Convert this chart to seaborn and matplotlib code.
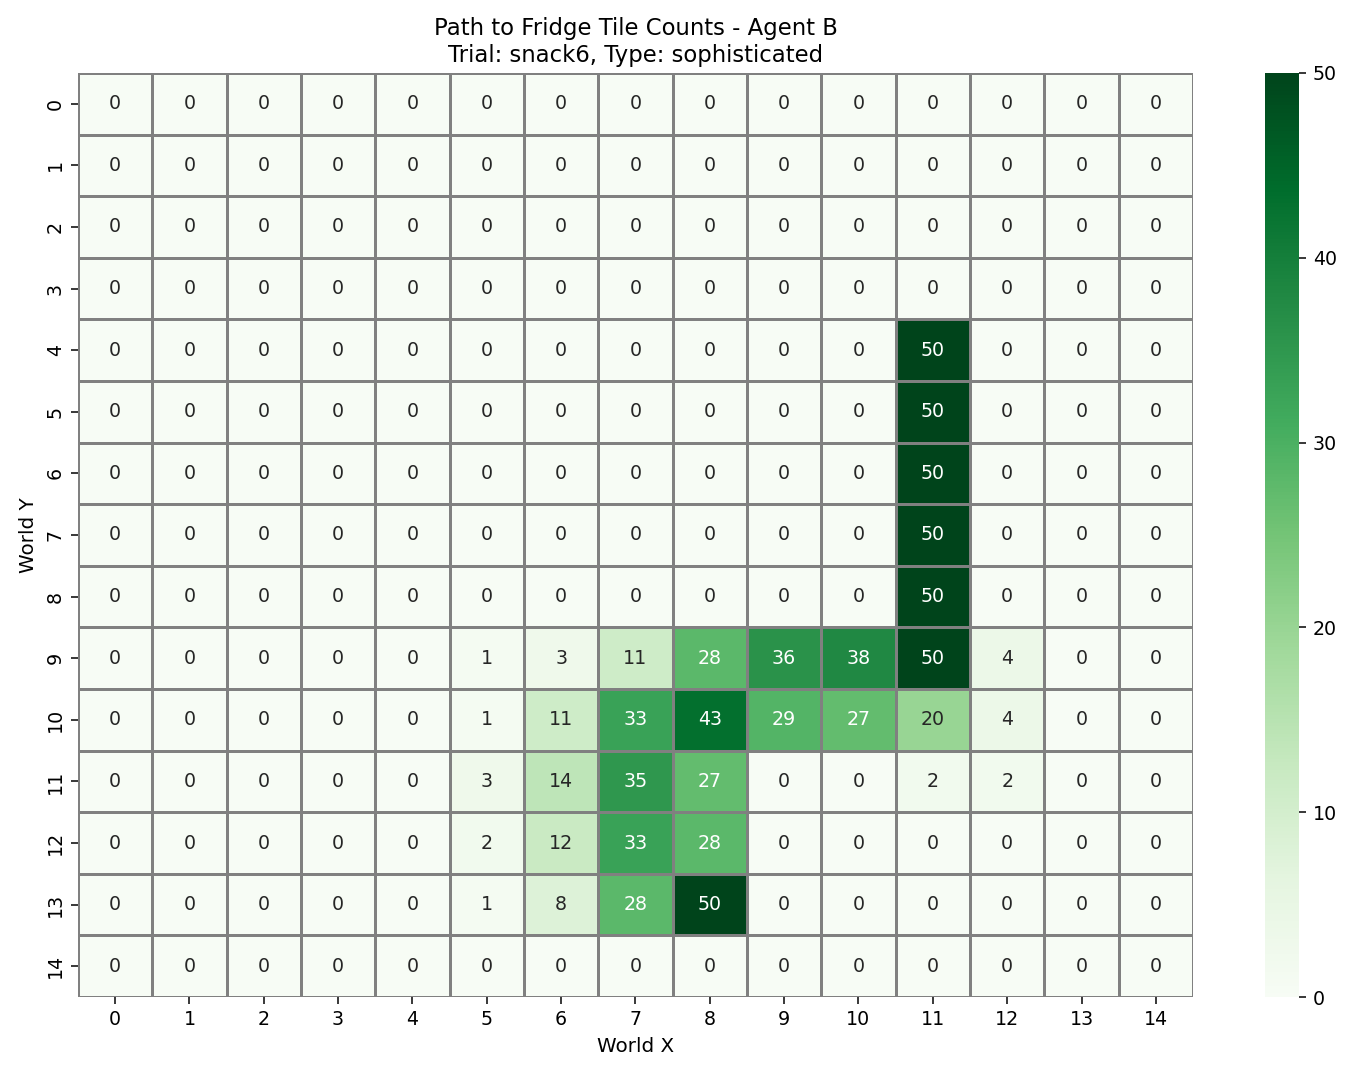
import numpy as np
import pandas as pd
import seaborn as sns
import matplotlib
matplotlib.use("Agg")
import matplotlib.pyplot as plt

x_labels = list(range(15))
y_labels = list(range(15))

row_zero = [0]*15
row_col11 = [0,0,0,0,0,0,0,0,0,0,0,50,0,0,0]
row9  = [0,0,0,0,0,1,3,11,28,36,38,50,4,0,0]
row10 = [0,0,0,0,0,1,11,33,43,29,27,20,4,0,0]
row11 = [0,0,0,0,0,3,14,35,27,0,0,2,2,0,0]
row12 = [0,0,0,0,0,2,12,33,28,0,0,0,0,0,0]
row13 = [0,0,0,0,0,1,8,28,50,0,0,0,0,0,0]
row14 = [0]*15

rows = [row_zero, row_zero, row_zero, row_zero,
        row_col11, row_col11, row_col11, row_col11, row_col11,
        row9, row10, row11, row12, row13, row14]

df = pd.DataFrame(rows, index=y_labels, columns=x_labels)

DPI = 136.5
fig = plt.figure(figsize=(1365 / DPI, 1076 / DPI), dpi=DPI)
ax = fig.add_axes([0.0571, 0.0734, 0.8169, 0.8588])
cax = fig.add_axes([0.927, 0.0734, 0.025, 0.8588])

sns.heatmap(df, ax=ax, cbar_ax=cax, cmap="Greens", vmin=0, vmax=50,
            annot=True, fmt="d", linewidths=1.5, linecolor="gray",
            annot_kws={"fontsize": 10})

ax.set_title("Path to Fridge Tile Counts - Agent B\nTrial: snack6, Type: sophisticated", fontsize=12)
ax.set_xlabel("World X", fontsize=10.5)
ax.set_ylabel("World Y", fontsize=10.5)
ax.tick_params(labelsize=10)
cax.tick_params(labelsize=10)

fig.savefig("out.png", dpi=DPI)
